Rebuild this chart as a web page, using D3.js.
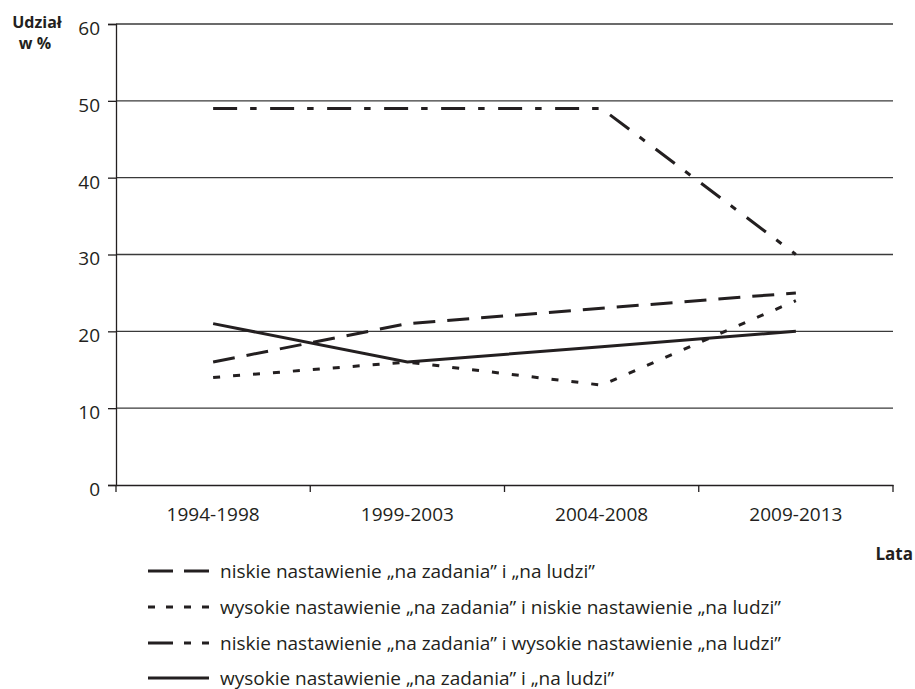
<!DOCTYPE html>
<html>
<head>
<meta charset="utf-8">
<script src="https://cdn.jsdelivr.net/npm/d3@7"></script>
<style>
  html, body { margin: 0; padding: 0; background: #fff; }
  svg { display: block; }
  text { font-family: "Open Sans", "Liberation Sans", sans-serif; fill: #231f20; }
</style>
</head>
<body>
<div id="chart"></div>
<script>
// Okresy (oś X)
const periods = ["1994-1998", "1999-2003", "2004-2008", "2009-2013"];
// Udział w % dla czterech typów nastawienia
const niskieOba = [16, 21, 23, 25];
const wysZadNiskLudzie = [14, 16, 13, 24];
const niskZadWysLudzie = [49, 49, 49, 30];
const wysokieOba = [21, 16, 18, 20];
const yTicks = [0, 10, 20, 30, 40, 50, 60];

const seriesNames = [
  "niskie nastawienie \u201Ena zadania\u201D i \u201Ena ludzi\u201D",
  "wysokie nastawienie \u201Ena zadania\u201D i niskie nastawienie \u201Ena ludzi\u201D",
  "niskie nastawienie \u201Ena zadania\u201D i wysokie nastawienie \u201Ena ludzi\u201D",
  "wysokie nastawienie \u201Ena zadania\u201D i \u201Ena ludzi\u201D"
];
const seriesValues = [niskieOba, wysZadNiskLudzie, niskZadWysLudzie, wysokieOba];
const lineDash = ["22,12", "7,13", "24,13,6.5,13.5", null];
const legendDash = ["25,11", "7,11", "25,11,7,11,7,60", null];

const W = 915, H = 689;
const ink = "#231f20";
const plotL = 116, plotR = 893, plotT = 24, plotB = 485;

const svg = d3.select("#chart").append("svg").attr("width", W).attr("height", H);

const x = d3.scaleBand().domain(periods).range([plotL, plotR]).padding(0);
const y = d3.scaleLinear().domain([0, 60]).range([plotB, plotT]);

// Linie siatki poziomej
svg.append("g")
  .selectAll("line")
  .data(yTicks.filter(d => d > 0))
  .join("line")
  .attr("x1", plotL).attr("x2", plotR)
  .attr("y1", d => y(d)).attr("y2", d => y(d))
  .attr("stroke", "#3a3a3a").attr("stroke-width", 1.3);

// Oś Y
const yAxis = svg.append("g")
  .attr("transform", `translate(${plotL},0)`)
  .call(d3.axisLeft(y).tickValues(yTicks).tickSize(8).tickPadding(8));
yAxis.select(".domain").attr("stroke", ink).attr("stroke-width", 1.3);
yAxis.selectAll(".tick line").attr("stroke", ink).attr("stroke-width", 1.3);
yAxis.selectAll(".tick text").attr("font-size", 19).attr("fill", ink)
  .attr("dy", "0.55em")
  .attr("font-family", "'Open Sans', sans-serif");

// Oś X z podziałkami na granicach okresów
const xAxis = svg.append("g")
  .attr("transform", `translate(0,${plotB})`)
  .call(d3.axisBottom(x).tickSize(0));
xAxis.select(".domain").attr("stroke", ink).attr("stroke-width", 1.3);
xAxis.selectAll(".tick text")
  .attr("y", 36).attr("dy", 0)
  .attr("font-size", 19).attr("fill", ink)
  .attr("font-family", "'Open Sans', sans-serif");
const bounds = periods.map(p => x(p)).concat([x(periods[periods.length - 1]) + x.bandwidth()]);
xAxis.selectAll(".bound")
  .data(bounds)
  .join("line")
  .attr("class", "bound")
  .attr("x1", d => d).attr("x2", d => d)
  .attr("y1", 0).attr("y2", 7)
  .attr("stroke", ink).attr("stroke-width", 1.3);

// Serie
const line = d3.line()
  .x((d, i) => x(periods[i]) + x.bandwidth() / 2)
  .y(d => y(d));

svg.append("g")
  .selectAll("path")
  .data(seriesValues)
  .join("path")
  .attr("d", d => line(d))
  .attr("fill", "none")
  .attr("stroke", ink)
  .attr("stroke-width", 3)
  .attr("stroke-dasharray", (d, i) => lineDash[i]);

// Tytuły osi (dwie linie)
svg.append("text")
  .attr("x", 37).attr("y", 28).attr("text-anchor", "middle")
  .attr("font-weight", "bold").attr("font-size", 16)
  .text("Udzia\u0142");
svg.append("text")
  .attr("x", 35).attr("y", 49).attr("text-anchor", "middle")
  .attr("font-weight", "bold").attr("font-size", 16)
  .text("w %");

svg.append("text")
  .attr("x", 913).attr("y", 560)
  .attr("text-anchor", "end")
  .attr("font-weight", "bold").attr("font-size", 17)
  .text("Lata");

// Legenda
const legY = [571, 607, 643, 678];
const leg = svg.append("g")
  .selectAll("g")
  .data(seriesNames)
  .join("g")
  .attr("transform", (d, i) => `translate(0,${legY[i]})`);
leg.append("line")
  .attr("x1", 148).attr("x2", 209)
  .attr("y1", 0).attr("y2", 0)
  .attr("stroke", ink).attr("stroke-width", 3)
  .attr("stroke-dasharray", (d, i) => legendDash[i]);
leg.append("text")
  .attr("x", 220).attr("y", 6.5)
  .attr("font-size", 19)
  .text(d => d);
</script>
</body>
</html>
